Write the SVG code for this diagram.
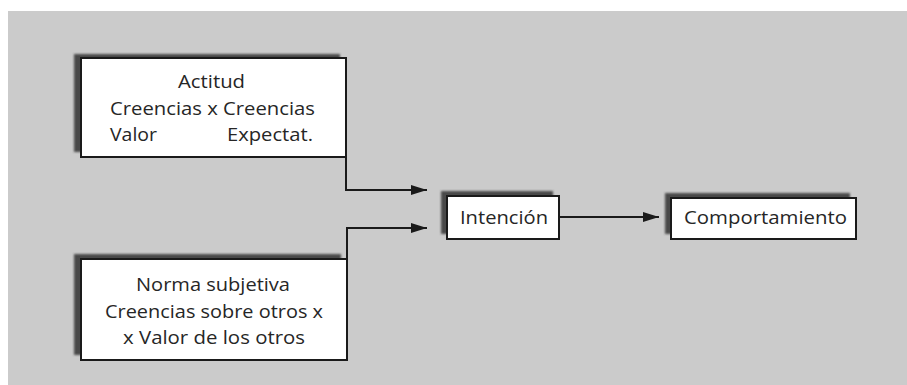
<svg xmlns="http://www.w3.org/2000/svg" width="907" height="385" viewBox="0 0 907 385">
  <style>
    .box { fill: #ffffff; stroke: #1a1a1a; stroke-width: 2; }
    .shadow { fill: #4a4a4a; filter: url(#soft); }
    .label { font-family: "Open Sans", "Noto Sans", "Liberation Sans", sans-serif; font-size: 19px; fill: #262626; }
    .mid { text-anchor: middle; }
    .wire { fill: none; stroke: #1a1a1a; stroke-width: 2; }
  </style>
  <defs>
    <filter id="soft" x="-10%" y="-10%" width="120%" height="120%">
      <feGaussianBlur stdDeviation="1.2"/>
    </filter>
    <marker id="head" viewBox="0 0 16 10" refX="16" refY="5" markerWidth="16" markerHeight="10" markerUnits="userSpaceOnUse" orient="auto">
      <path d="M0,0 L16,5 L0,10 Z" fill="#1a1a1a"/>
    </marker>
  </defs>

  <!-- panel -->
  <rect x="8" y="11" width="899" height="374" fill="#cbcbcb"/>

  <!-- connectors -->
  <g id="connectors">
    <path class="wire" d="M346,157 V190 H427" marker-end="url(#head)"/>
    <path class="wire" d="M347,259 V228 H427" marker-end="url(#head)"/>
    <path class="wire" d="M559,217 H659" marker-end="url(#head)"/>
  </g>

  <!-- Actitud -->
  <g id="actitud">
    <rect class="shadow" x="74" y="54" width="266" height="98"/>
    <rect class="box" x="81" y="58" width="265" height="99"/>
    <text class="label" x="178" y="88" textLength="67" lengthAdjust="spacingAndGlyphs">Actitud</text>
    <text class="label" x="110" y="115" textLength="205" lengthAdjust="spacingAndGlyphs">Creencias x Creencias</text>
    <text class="label" x="110" y="141" textLength="47" lengthAdjust="spacingAndGlyphs">Valor</text>
    <text class="label" x="227" y="141" textLength="86" lengthAdjust="spacingAndGlyphs">Expectat.</text>
  </g>

  <!-- Norma subjetiva -->
  <g id="norma">
    <rect class="shadow" x="74" y="254" width="267" height="101"/>
    <rect class="box" x="81" y="259" width="266" height="101"/>
    <text class="label" x="136" y="291" textLength="154" lengthAdjust="spacingAndGlyphs">Norma subjetiva</text>
    <text class="label" x="105" y="318" textLength="218" lengthAdjust="spacingAndGlyphs">Creencias sobre otros x</text>
    <text class="label" x="123" y="344" textLength="182" lengthAdjust="spacingAndGlyphs">x Valor de los otros</text>
  </g>

  <!-- Intención -->
  <g id="intencion">
    <rect class="shadow" x="441" y="191" width="112" height="43"/>
    <rect class="box" x="447" y="196" width="112" height="43"/>
    <text class="label" x="460" y="224" textLength="88" lengthAdjust="spacingAndGlyphs">Intención</text>
  </g>

  <!-- Comportamiento -->
  <g id="comportamiento">
    <rect class="shadow" x="665" y="193" width="185" height="41"/>
    <rect class="box" x="671" y="198" width="185" height="41"/>
    <text class="label" x="684" y="224" textLength="163" lengthAdjust="spacingAndGlyphs">Comportamiento</text>
  </g>
</svg>
